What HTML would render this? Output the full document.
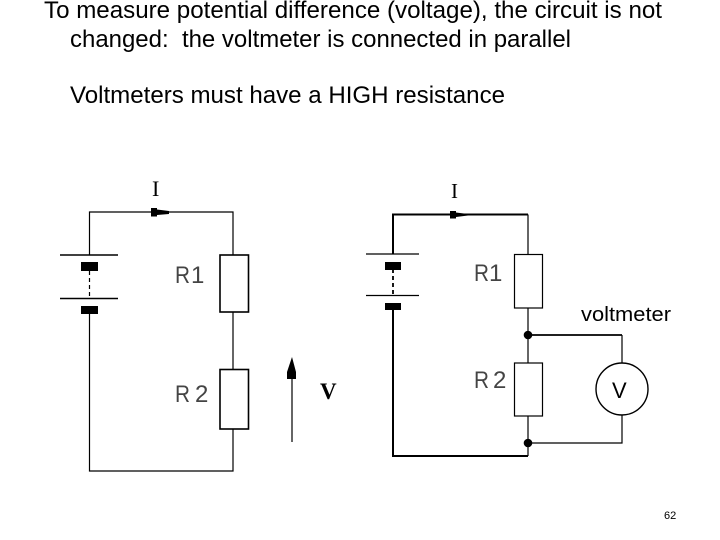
<!DOCTYPE html>
<html><head><meta charset="utf-8"><style>
html,body{margin:0;padding:0;background:#fff}
svg{display:block}
text{font-family:"Liberation Sans",sans-serif;fill:#000}
.t{font-size:24px}
.l{font-size:24px;fill:#444}
.s{font-family:"Liberation Serif",serif}
</style></head><body>
<svg width="720" height="540" viewBox="0 0 720 540" xmlns="http://www.w3.org/2000/svg">
<text class="t" x="44" y="18" textLength="618" lengthAdjust="spacingAndGlyphs">To measure potential difference (voltage), the circuit is not</text>
<text class="t" x="70" y="47" textLength="501" lengthAdjust="spacingAndGlyphs" xml:space="preserve">changed:  the voltmeter is connected in parallel</text>
<text class="t" x="70" y="103" textLength="435" lengthAdjust="spacingAndGlyphs">Voltmeters must have a HIGH resistance</text>

<g fill="none" stroke="#000" stroke-width="1.2">
<path d="M89.500 255V212H233V255M89.500 313V471H233V429M233 312V369"/>
<path d="M89.500 271V298" stroke-dasharray="4 3"/>
<path d="M60 255H118M60 298.500H118" stroke-width="1.600"/>
<rect x="220" y="255" width="28.500" height="57" stroke-width="1.600"/>
<rect x="220" y="369.500" width="28.500" height="59.500" stroke-width="1.600"/>
<path d="M292 372V442"/>
</g>
<g fill="#000">
<rect x="81" y="262" width="17" height="9"/>
<rect x="81" y="306" width="17" height="8"/>
<path d="M151 208H157V209.500L169 211V214L157 215V216.500H151Z"/>
<path d="M292 357L296 372V379H287V372Z"/>
</g>
<text class="l" x="175" y="283" textLength="15" lengthAdjust="spacingAndGlyphs">R</text><text class="l" x="191" y="283">1</text>
<text class="l" x="175" y="402" textLength="15" lengthAdjust="spacingAndGlyphs">R</text><text class="l" x="195" y="402">2</text>
<text class="s" x="152" y="196" font-size="22" fill="#222">I</text>
<text class="s" x="320" y="399" font-size="23" font-weight="bold" fill="#222">V</text>

<g fill="none" stroke="#000" stroke-width="1.200">
<path d="M528 214.500V254"/>
<path d="M393 254V214.500H528M393 310V456H528" stroke-width="2"/>
<path d="M393 269V295" stroke-width="1.800" stroke-dasharray="4 3"/>
<path d="M366 254H419M366 295.500H419"/>
<rect x="514.500" y="254.500" width="28" height="53.500"/>
<rect x="514.500" y="363" width="28" height="53"/>
<path d="M528 308V363M528 416V456"/>
<path d="M622 335V363"/>
<path d="M528 335H622" stroke-width="1.800"/>
<path d="M528 443H622V415"/>
<circle cx="622" cy="389" r="26" stroke-width="1.400"/>
</g>
<g fill="#000">
<rect x="385" y="262" width="16" height="8"/>
<rect x="385" y="303" width="16" height="7"/>
<circle cx="528" cy="335" r="4.300"/>
<circle cx="528" cy="443" r="4.300"/>
<path d="M450 211H456V212.500L468 214V215.500L456 217V218.500H450Z"/>
</g>
<text class="l" x="474" y="281" textLength="15" lengthAdjust="spacingAndGlyphs">R</text><text class="l" x="489" y="281">1</text>
<text class="l" x="474" y="388" textLength="15" lengthAdjust="spacingAndGlyphs">R</text><text class="l" x="493" y="388">2</text>
<text class="s" x="451" y="198" font-size="21" fill="#111">I</text>
<text x="581" y="321" font-size="20" fill="#444" textLength="90" lengthAdjust="spacingAndGlyphs">voltmeter</text>
<text x="612" y="398" font-size="22" fill="#444">V</text>

<text x="664" y="519" font-size="11" fill="#666">62</text>
</svg>
</body></html>
